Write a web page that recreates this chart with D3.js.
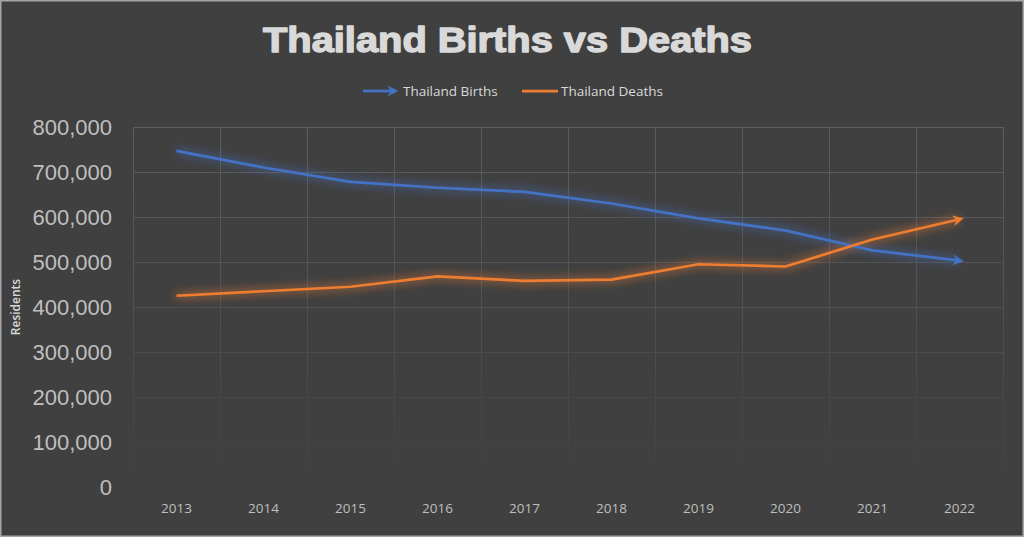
<!DOCTYPE html>
<html>
<head>
<meta charset="utf-8">
<script src="https://cdn.jsdelivr.net/npm/d3@7"></script>
<style>
  html, body { margin: 0; padding: 0; background: #404040; }
  svg { display: block; }
</style>
</head>
<body>
<svg width="1024" height="537"></svg>
<script>
// values
const years = ["2013", "2014", "2015", "2016", "2017", "2018", "2019", "2020", "2021", "2022"]
const births = [747000, 710000, 678000, 665000, 656000, 630000, 597000, 570000, 526000, 503000]
const deaths = [425000, 435000, 445000, 468000, 458000, 461000, 495000, 490000, 550000, 595000]
const yTicks = [0, 100000, 200000, 300000, 400000, 500000, 600000, 700000, 800000]

const svg = d3.select("svg")
const width = +svg.attr("width")
const height = +svg.attr("height")
const plot = { left: 133, right: 1003, top: 127, bottom: 487 }

svg.append("rect")
  .attr("x", 0.75).attr("y", 0.75)
  .attr("width", width - 1.5).attr("height", height - 1.5)
  .attr("fill", "#404040")
  .attr("stroke", "#a6a6a6").attr("stroke-width", 1.5)

const defs = svg.append("defs")

// gridlines fade out toward the bottom
let grad = defs.append("linearGradient")
  .attr("id", "gridFade")
  .attr("gradientUnits", "userSpaceOnUse")
  .attr("x1", 0).attr("y1", plot.top)
  .attr("x2", 0).attr("y2", plot.bottom)
grad.append("stop").attr("offset", "0%").attr("stop-color", "#5e5e5e")
grad.append("stop").attr("offset", "55%").attr("stop-color", "#4f4f4f")
grad.append("stop").attr("offset", "100%").attr("stop-color", "#404040")

defs.append("filter")
  .attr("id", "glow")
  .attr("x", "-10%").attr("y", "-50%").attr("width", "120%").attr("height", "200%")
  .append("feGaussianBlur").attr("stdDeviation", 4)

const colors = { births: "#4472c4", deaths: "#ed7d31" }

function addArrow(id, color) {
  defs.append("marker")
    .attr("id", id)
    .attr("viewBox", "0 0 10 10")
    .attr("refX", 6).attr("refY", 5)
    .attr("markerWidth", 4).attr("markerHeight", 4)
    .attr("markerUnits", "strokeWidth")
    .attr("orient", "auto")
    .append("path")
    .attr("d", "M0,0 L10,5 L0,10 L3,5 Z")
    .attr("fill", color)
}
addArrow("arrowBirths", colors.births)
addArrow("arrowDeaths", colors.deaths)

const x = d3.scaleBand()
  .domain(years)
  .range([plot.left, plot.right])

const y = d3.scaleLinear()
  .domain([0, 800000])
  .range([plot.bottom, plot.top])

// grid
const grid = svg.append("g")
  .attr("stroke", "url(#gridFade)")
  .attr("stroke-width", 1)
  .attr("fill", "none")

grid.selectAll(".hgrid")
  .data(yTicks.filter(d => d > 0))
  .enter().append("line")
  .attr("x1", plot.left).attr("x2", plot.right)
  .attr("y1", d => Math.round(y(d)) + 0.5)
  .attr("y2", d => Math.round(y(d)) + 0.5)

const vlines = years.map(d => x(d)).concat([plot.right])
grid.selectAll(".vgrid")
  .data(vlines)
  .enter().append("rect")
  .attr("x", d => Math.round(d))
  .attr("y", plot.top)
  .attr("width", 1)
  .attr("height", plot.bottom - plot.top)
  .attr("stroke", "none")
  .attr("fill", "url(#gridFade)")

// y axis
const yAxis = svg.append("g")
  .attr("transform", `translate(${plot.left - 21},0)`)
  .call(d3.axisLeft(y).tickValues(yTicks).tickSize(0).tickPadding(0).tickFormat(d3.format(",")))
yAxis.select(".domain").remove()
yAxis.selectAll("text")
  .attr("fill", "#bfbfbf")
  .style("font-family", "'Liberation Sans', Arial, sans-serif")
  .style("font-size", "22px")
  .attr("dy", "0.33em")

// x axis
const xAxis = svg.append("g")
  .attr("transform", `translate(0,${plot.bottom})`)
  .call(d3.axisBottom(x).tickSize(0).tickPadding(0))
xAxis.select(".domain").remove()
xAxis.selectAll("text")
  .attr("fill", "#bfbfbf")
  .attr("y", 26)
  .attr("dy", 0)
  .style("font-family", "'Open Sans', sans-serif")
  .style("font-size", "13.5px")

// y axis title
svg.append("text")
  .attr("transform", "translate(20,307) rotate(-90)")
  .attr("text-anchor", "middle")
  .attr("fill", "#d9d9d9")
  .style("font-family", "'Open Sans', sans-serif")
  .style("font-size", "12px")
  .style("font-weight", "600")
  .text("Residents")

// lines
const line = d3.line()
  .x((d, i) => x(years[i]) + x.bandwidth() / 2)
  .y(d => y(d))

const series = [
  { key: "births", values: births, marker: "arrowBirths" },
  { key: "deaths", values: deaths, marker: "arrowDeaths" }
]

svg.selectAll(".glowLine")
  .data(series)
  .enter().append("path")
  .attr("d", d => line(d.values))
  .attr("fill", "none")
  .attr("stroke", d => colors[d.key])
  .attr("stroke-width", 7)
  .attr("stroke-opacity", 0.45)
  .attr("stroke-linejoin", "round")
  .attr("filter", "url(#glow)")

svg.selectAll(".seriesLine")
  .data(series)
  .enter().append("path")
  .attr("d", d => line(d.values))
  .attr("fill", "none")
  .attr("stroke", d => colors[d.key])
  .attr("stroke-width", 2.75)
  .attr("stroke-linejoin", "round")
  .attr("marker-end", d => `url(#${d.marker})`)

// title, heavy and wide like the original
svg.append("text")
  .attr("x", 263)
  .attr("y", 52)
  .attr("fill", "#d9d9d9")
  .attr("stroke", "#d9d9d9")
  .attr("stroke-width", 1.4)
  .attr("stroke-linejoin", "round")
  .attr("textLength", 489)
  .attr("lengthAdjust", "spacingAndGlyphs")
  .style("font-family", "'Liberation Sans', Arial, sans-serif")
  .style("font-size", "35px")
  .style("font-weight", "bold")
  .text("Thailand Births vs Deaths")

// legend
const legend = svg.append("g")
  .style("font-family", "'Open Sans', sans-serif")
  .style("font-size", "13.5px")

legend.append("line")
  .attr("x1", 363).attr("x2", 394).attr("y1", 91).attr("y2", 91)
  .attr("stroke", colors.births).attr("stroke-width", 2.75)
  .attr("marker-end", "url(#arrowBirths)")
legend.append("text")
  .attr("x", 403).attr("y", 96)
  .attr("fill", "#d9d9d9")
  .text("Thailand Births")

legend.append("line")
  .attr("x1", 522).attr("x2", 558).attr("y1", 91).attr("y2", 91)
  .attr("stroke", colors.deaths).attr("stroke-width", 2.75)
legend.append("text")
  .attr("x", 561).attr("y", 96)
  .attr("fill", "#d9d9d9")
  .text("Thailand Deaths")
</script>
</body>
</html>
